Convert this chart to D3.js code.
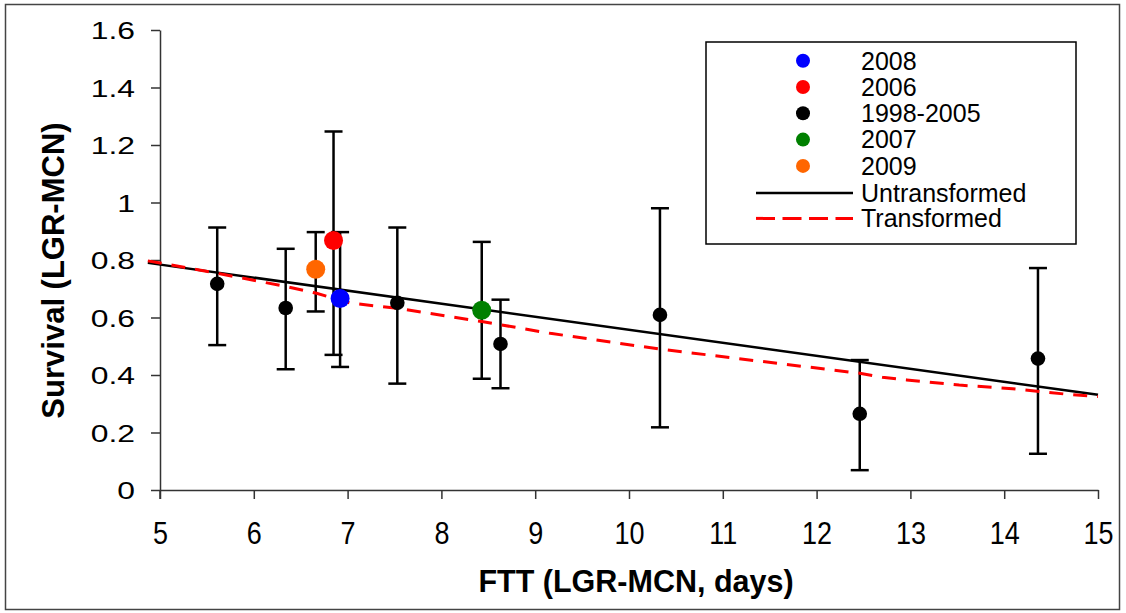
<!DOCTYPE html>
<html>
<head>
<meta charset="utf-8">
<script src="https://cdn.jsdelivr.net/npm/d3@7"></script>
<style>
  body { margin: 0; background: #fff; }
  svg { display: block; font-family: "Liberation Sans", Arial, sans-serif; }
</style>
</head>
<body>
<div id="chart"></div>
<script>
// legend groups / colours
const groups = ['2008', '2006', '1998-2005', '2007', '2009'];
const groupColors = ['#0000ff', '#ff0000', '#000000', '#008000', '#ff6600'];

// points: FTT (days), survival, lower and upper error bar
const ptGroup = ['1998-2005', '1998-2005', '2009', '2006', '2008', '1998-2005', '2007', '1998-2005', '1998-2005', '1998-2005', '1998-2005'];
const ptFtt   = [5.61, 6.34, 6.66, 6.85, 6.92, 7.53, 8.43, 8.63, 10.33, 12.46, 14.36];
const ptSurv  = [0.717, 0.633, 0.768, 0.868, 0.666, 0.651, 0.625, 0.508, 0.609, 0.265, 0.457];
const ptLow   = [0.504, 0.420, 0.621, 0.470, 0.428, 0.370, 0.387, 0.354, 0.218, 0.069, 0.126];
const ptHigh  = [0.913, 0.839, 0.897, 1.247, 0.897, 0.913, 0.863, 0.662, 0.980, 0.452, 0.772];

// fitted lines
const untransX = [4.87, 15];
const untransY = [0.790, 0.331];
const transX = [4.87, 5.61, 6.34, 6.66, 7.03, 7.53, 8.43, 9.16, 10.33, 12.46, 12.7, 12.96, 13.52, 14.09, 14.64, 15.0];
const transY = [0.797, 0.754, 0.708, 0.685, 0.650, 0.632, 0.586, 0.545, 0.490, 0.406, 0.392, 0.383, 0.365, 0.352, 0.334, 0.325];

const xTicks = [5, 6, 7, 8, 9, 10, 11, 12, 13, 14, 15];
const yTicks = [0, 0.2, 0.4, 0.6, 0.8, 1, 1.2, 1.4, 1.6];

const width = 1126;
const height = 613;
const margin = { top: 30, right: 28, bottom: 123, left: 160 };

const svg = d3.select('#chart')
  .append('svg')
  .attr('width', width)
  .attr('height', height);

svg.append('rect')
  .attr('x', 5.5).attr('y', 4.5)
  .attr('width', 1114).attr('height', 605)
  .attr('fill', '#fff')
  .attr('stroke', '#444')
  .attr('stroke-width', 1.5);

const x = d3.scaleLinear()
  .domain([5, 15])
  .range([margin.left, width - margin.right]);

const y = d3.scaleLinear()
  .domain([0, 1.6])
  .range([height - margin.bottom, margin.top]);

// x axis
const xAxis = svg.append('g')
  .attr('transform', `translate(0,${y(0)})`)
  .call(d3.axisBottom(x).tickValues(xTicks).tickSize(9).tickSizeOuter(0).tickFormat(d3.format('d')));
xAxis.selectAll('path, line').attr('stroke', '#333').attr('stroke-width', 1.5);
xAxis.selectAll('text')
  .attr('y', 54).attr('dy', null)
  .attr('font-size', 31)
  .attr('fill', '#000')
  .attr('transform', 'scale(0.87,1)')
  .attr('font-family', '"Liberation Sans", Arial, sans-serif');

// y axis
const yAxis = svg.append('g')
  .attr('transform', `translate(${x(5)},0)`)
  .call(d3.axisLeft(y).tickValues(yTicks).tickSize(9).tickSizeOuter(0).tickFormat(d => String(d)));
yAxis.selectAll('path, line').attr('stroke', '#333').attr('stroke-width', 1.5);
yAxis.selectAll('text')
  .attr('x', -25 / 1.3)
  .attr('dy', '0.36em')
  .attr('font-size', 24.5)
  .attr('fill', '#000')
  .attr('transform', 'scale(1.3,1)')
  .attr('font-family', '"Liberation Sans", Arial, sans-serif');

// the y axis line reaches down to the x tick ends
svg.append('line')
  .attr('x1', x(5)).attr('x2', x(5))
  .attr('y1', y(0)).attr('y2', y(0) + 9)
  .attr('stroke', '#333').attr('stroke-width', 1.5);

// error bars
const pts = ptFtt.map((f, i) => ({ f, s: ptSurv[i], lo: ptLow[i], hi: ptHigh[i], g: ptGroup[i] }));

const bars = svg.append('g')
  .attr('stroke', '#000')
  .attr('stroke-width', 2.5);

pts.forEach(d => {
  bars.append('line')
    .attr('x1', x(d.f)).attr('x2', x(d.f))
    .attr('y1', y(d.lo)).attr('y2', y(d.hi));
  [d.lo, d.hi].forEach(v => {
    bars.append('line')
      .attr('x1', x(d.f) - 9).attr('x2', x(d.f) + 9)
      .attr('y1', y(v)).attr('y2', y(v));
  });
});

// fitted lines
const line = d3.line()
  .x(d => x(d[0]))
  .y(d => y(d[1]));

svg.append('path')
  .datum(untransX.map((v, i) => [v, untransY[i]]))
  .attr('fill', 'none')
  .attr('stroke', '#000')
  .attr('stroke-width', 2.5)
  .attr('d', line);

svg.append('path')
  .datum(transX.map((v, i) => [v, transY[i]]))
  .attr('fill', 'none')
  .attr('stroke', '#ff0000')
  .attr('stroke-width', 3)
  .attr('stroke-dasharray', '14,10')
  .attr('d', line);

// markers
const colorOf = d3.scaleOrdinal().domain(groups).range(groupColors);

svg.selectAll('.pt')
  .data(pts)
  .enter()
  .append('circle')
  .attr('class', 'pt')
  .attr('cx', d => x(d.f))
  .attr('cy', d => y(d.s))
  .attr('r', d => d.g === '1998-2005' ? 7.3 : 9.5)
  .attr('fill', d => colorOf(d.g));

// legend
const legend = svg.append('g');

legend.append('rect')
  .attr('x', 706).attr('y', 42)
  .attr('width', 370).attr('height', 202)
  .attr('fill', '#fff')
  .attr('stroke', '#000')
  .attr('stroke-width', 1.5);

const rowY = i => 60.7 + i * 26.3;

groups.forEach((g, i) => {
  legend.append('circle')
    .attr('cx', 803)
    .attr('cy', rowY(i))
    .attr('r', 7)
    .attr('fill', groupColors[i]);
  legend.append('text')
    .attr('x', 861)
    .attr('y', rowY(i) + 8.8)
    .attr('font-size', 25)
    .text(g);
});

const lineItems = [
  { label: 'Untransformed', color: '#000', dash: null, w: 2.5 },
  { label: 'Transformed', color: '#ff0000', dash: '19,7.5', w: 3 }
];

lineItems.forEach((d, j) => {
  const ly = rowY(5) + j * 25.5 + 0.7;
  legend.append('line')
    .attr('x1', 756).attr('x2', 853)
    .attr('y1', ly).attr('y2', ly)
    .attr('stroke', d.color)
    .attr('stroke-width', d.w)
    .attr('stroke-dasharray', d.dash);
  legend.append('text')
    .attr('x', 861)
    .attr('y', ly + 8.8)
    .attr('font-size', 25)
    .text(d.label);
});

// axis titles
svg.append('text')
  .attr('x', 636)
  .attr('y', 592)
  .attr('text-anchor', 'middle')
  .attr('font-size', 30.5)
  .attr('font-weight', 'bold')
  .text('FTT (LGR-MCN, days)');

svg.append('text')
  .attr('transform', 'translate(64,270.5) rotate(-90)')
  .attr('text-anchor', 'middle')
  .attr('font-size', 31)
  .attr('font-weight', 'bold')
  .text('Survival (LGR-MCN)');
</script>
</body>
</html>
